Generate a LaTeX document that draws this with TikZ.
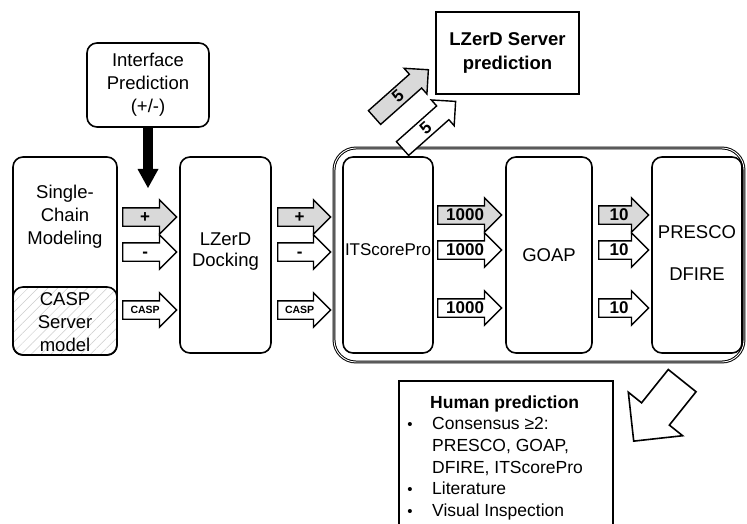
\documentclass[tikz,border=0pt]{standalone}
\usepackage{fontspec}
\setmainfont{Liberation Sans}
\usetikzlibrary{shapes.arrows,arrows.meta,patterns.meta}
\begin{document}
\begin{tikzpicture}[x=1pt,y=-1pt,
  box/.style={draw, line width=1.6pt, rounded corners=10pt, fill=white, rectangle, inner sep=0pt},
  sqbox/.style={draw, line width=1.6pt, fill=white, rectangle, inner sep=0pt},
  lbl/.style={align=center, font=\fontsize{18.5}{23}\selectfont, inner sep=0pt},
  barrow/.style={single arrow, draw, line width=1.4pt, fill=white, single arrow head extend=8pt,
    single arrow tip angle=90, text height=11pt, text depth=0pt, inner ysep=3pt, inner xsep=1pt,
    anchor=tail, font=\bfseries\fontsize{17}{17}\selectfont},
  smalllbl/.style={font=\bfseries\fontsize{10.5}{10}\selectfont, text height=9pt, text depth=2pt},
  numlbl/.style={font=\bfseries\fontsize{17}{17}\selectfont},
  grayf/.style={fill=gray!30},
  hptxt/.style={anchor=base west, inner sep=0pt, font=\fontsize{17.5}{21}\selectfont},
  bul/.style={anchor=base, inner sep=0pt, font=\fontsize{15}{15}\selectfont},
]
\clip (0,0) rectangle (747,524);
\fill[white] (0,0) rectangle (747,524);

% Interface prediction
\node[box, lbl, minimum width=122pt, minimum height=84pt] (ip) at (148,85) {Interface\\Prediction\\(+/-)};
\coordinate (ipend) at (148,188);
\draw[line width=10pt, -{Triangle[width=21pt,length=19pt,line width=0pt]}] (ip.south) -- (ipend);

% Single-chain modeling
\node[box, minimum width=104pt, minimum height=198pt] (scm) at (65,256) {};
\node[box, minimum width=104pt, minimum height=68pt, fill=none,
      pattern={Lines[angle=45,distance=7pt,line width=0.5pt]}, pattern color=gray!40] (casp) at (65,321) {};
\node[lbl] (scmt) at (65,217) {Single-\\Chain\\Modeling};
\node[lbl] (caspt) at (65,322) {CASP\\Server\\model};

% LZerD docking
\node[box, minimum width=91pt, minimum height=196pt] (dock) at (225.5,255) {};
\node[lbl, font=\fontsize{18.5}{21}\selectfont] (dockt) at (225.5,252) {LZerD\\Docking};

% outer frame
\node[draw, double=white, double distance=0.9pt, line width=1pt, rounded corners=22pt,
      minimum width=410pt, minimum height=214pt, inner sep=0pt] (outer) at (539,255) {};

% scoring boxes
\node[box, minimum width=90pt, minimum height=196pt] (its) at (388,255) {};
\node[lbl, font=\fontsize{17}{20}\selectfont] (itst) at (388,250) {ITScorePro};
\node[box, minimum width=86pt, minimum height=196pt] (goap) at (549,255) {};
\node[lbl] (goapt) at (549,255) {GOAP};
\node[box, minimum width=90pt, minimum height=196pt] (pd) at (697,255) {};
\node[lbl] (prescot) at (697,232) {PRESCO};
\node[lbl] (dfiret) at (697,274) {DFIRE};

% LZerD server prediction
\node[sqbox, minimum width=143pt, minimum height=82pt, align=center,
      font=\bfseries\fontsize{18.5}{24}\selectfont] (lsp) at (507.5,53) {LZerD Server\\prediction};

% arrows set 1
\node[barrow, grayf, minimum height=54pt] (p1) at (122,217) {+};
\node[barrow, minimum height=54pt] (m1) at (122,252) {-};
\node[barrow, smalllbl, minimum height=54pt] (c1) at (122,310) {CASP};
% arrows set 2
\node[barrow, grayf, minimum height=53pt] (p2) at (277,217) {+};
\node[barrow, minimum height=53pt] (m2) at (277,252) {-};
\node[barrow, smalllbl, minimum height=53pt] (c2) at (277,310) {CASP};
% arrows set 3
\node[barrow, grayf, numlbl, minimum height=64pt] (k1) at (437,215) {1000};
\node[barrow, numlbl, minimum height=64pt] (k2) at (437,250) {1000};
\node[barrow, numlbl, minimum height=64pt] (k3) at (437,308) {1000};
% arrows set 4
\node[barrow, grayf, numlbl, minimum height=50pt] (t1) at (598,215) {10};
\node[barrow, numlbl, minimum height=50pt] (t2) at (598,250) {10};
\node[barrow, numlbl, minimum height=50pt] (t3) at (598,308) {10};

% diagonal arrows to server prediction
\node[barrow, grayf, numlbl, rotate=41.6, minimum height=72pt] (f1) at (374,118) {5};
\node[barrow, numlbl, rotate=41.6, minimum height=71pt] (f2) at (402,149) {5};

% big arrow to human prediction
\node[single arrow, draw, line width=1.6pt, fill=white, single arrow head extend=17pt,
      single arrow tip angle=90, text height=0pt, text depth=0pt, inner ysep=17pt, inner xsep=0pt,
      minimum height=77.5pt, rotate=231.3, anchor=tip] (big) at (633,442) {};

% human prediction
\node[sqbox, fill=none, minimum width=214pt, minimum height=170pt, anchor=north west] (hp) at (398,380) {};
\node[hptxt, font=\bfseries\fontsize{17.5}{21}\selectfont] (hpt) at (430,408) {Human prediction};
\node[bul] (b1) at (410,429) {\textbullet};
\node[hptxt] (h1) at (432,429) {Consensus ≥2:};
\node[hptxt] (h2) at (432,451) {PRESCO, GOAP,};
\node[hptxt] (h3) at (432,473) {DFIRE, ITScorePro};
\node[bul] (b2) at (410,494) {\textbullet};
\node[hptxt] (h4) at (432,494) {Literature};
\node[bul] (b3) at (410,516) {\textbullet};
\node[hptxt] (h5) at (432,516) {Visual Inspection};
\end{tikzpicture}
\end{document}
